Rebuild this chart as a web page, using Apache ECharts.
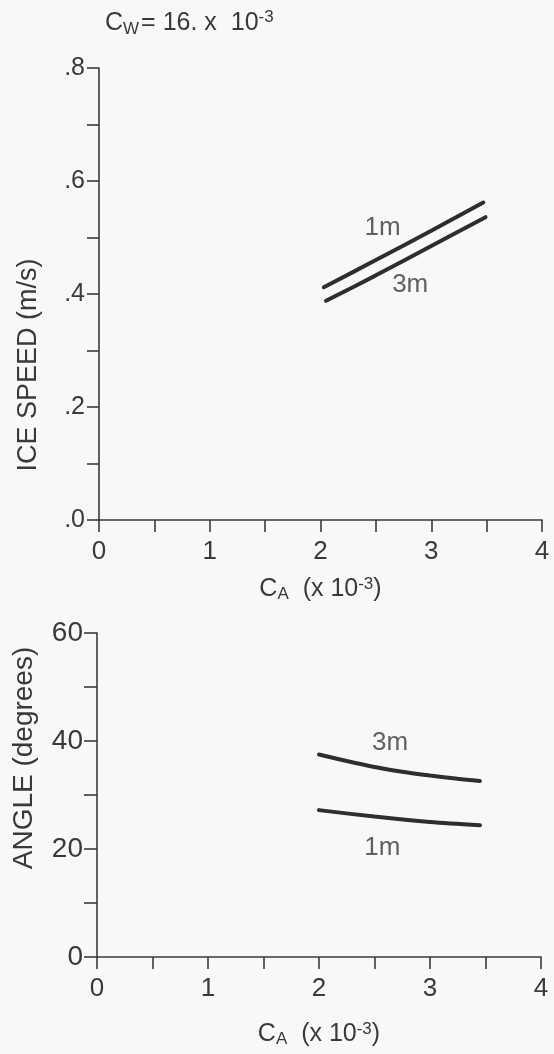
<!DOCTYPE html>
<html>
<head>
<meta charset="utf-8">
<script src="https://cdn.jsdelivr.net/npm/echarts@6/dist/echarts.min.js"></script>
<style>
html,body{margin:0;padding:0;background:#f8f9f7;}
#c{width:554px;height:1054px;}
</style>
</head>
<body>
<div id="c"></div>
<script>
// ---- data ----
const speedCA_1m = [2.03, 2.5, 3.0, 3.47];
const speed_1m   = [0.412, 0.460, 0.512, 0.562];
const speedCA_3m = [2.05, 2.5, 3.0, 3.49];
const speed_3m   = [0.388, 0.433, 0.485, 0.536];

const angleCA_3m = [2.0, 2.25, 2.5, 2.75, 3.0, 3.25, 3.45];
const angle_3m   = [37.5, 36.3, 35.2, 34.3, 33.6, 33.0, 32.6];
const angleCA_1m = [2.0, 2.5, 3.0, 3.45];
const angle_1m   = [27.2, 26.0, 25.0, 24.4];

// curve labels in data coordinates
const speedLabels = [[2.56, 0.517, '1m'], [2.81, 0.416, '3m']];
const angleLabels = [[2.64, 39.6, '3m'], [2.57, 20.2, '1m']];

const xTicks = [0, 1, 2, 3, 4];

const zip = (xs, ys) => xs.map((x, i) => [x, ys[i]]);
const FONT = 'Liberation Sans';
const INK = '#3a3a3a';

const chart = echarts.init(document.getElementById('c'));

function xAxis(gridIndex, nameGap) {
  return {
    type: 'value', gridIndex, min: 0, max: 4, interval: 0.5,
    splitLine: {show: false},
    axisLine: {onZero: false, lineStyle: {color: INK, width: 1.6}},
    axisTick: {inside: false, length: 12, lineStyle: {color: INK, width: 1.6}},
    axisLabel: {
      color: INK, fontFamily: FONT, fontSize: 26, margin: 19,
      formatter: v => (Number.isInteger(v) && xTicks.includes(v)) ? String(v) : ''
    },
    name: '{a|C}{s|A}{a|  (x 10}{p|-3}{a|)}',
    nameLocation: 'middle', nameGap,
    nameTextStyle: {
      rich: {
        a: {fontFamily: FONT, fontSize: 25, color: INK},
        s: {fontFamily: FONT, fontSize: 17, color: INK, verticalAlign: 'bottom', padding: [10, 0, 0, 0]},
        p: {fontFamily: FONT, fontSize: 17, color: INK, verticalAlign: 'top', padding: [0, 0, 10, 0]}
      }
    }
  };
}

function lineSeries(xi, data) {
  return {
    type: 'line', xAxisIndex: xi, yAxisIndex: xi, data,
    smooth: 0.3, symbol: 'none',
    lineStyle: {color: '#2e2e2e', width: 4, cap: 'round'}
  };
}

function labelSeries(xi, labels) {
  return {
    type: 'scatter', xAxisIndex: xi, yAxisIndex: xi,
    symbolSize: 0, silent: true,
    data: labels.map(l => ({value: [l[0], l[1]], name: l[2]})),
    label: {
      show: true, position: 'inside', formatter: p => p.name,
      color: INK, fontFamily: FONT, fontSize: 26
    }
  };
}

chart.setOption({
  backgroundColor: '#f8f9f7',
  animation: false,
  title: {
    text: '{a|C}{s|W}{a|= 16. x  10}{p|-3}',
    left: 100, top: 4,
    textStyle: {
      fontWeight: 'normal',
      rich: {
        a: {fontFamily: FONT, fontSize: 25, color: INK, fontWeight: 'normal'},
        s: {fontFamily: FONT, fontSize: 17, color: INK, fontWeight: 'normal', verticalAlign: 'bottom', padding: [12, 2, 0, 0]},
        p: {fontFamily: FONT, fontSize: 17, color: INK, fontWeight: 'normal', verticalAlign: 'top', padding: [0, 0, 12, 0]}
      }
    }
  },
  grid: [
    {left: 99, right: 12, top: 68, height: 452},
    {left: 97, right: 13, top: 633, height: 324}
  ],
  xAxis: [xAxis(0, 56), xAxis(1, 64)],
  yAxis: [
    {
      type: 'value', gridIndex: 0, min: 0, max: 0.8, interval: 0.1,
      splitLine: {show: false},
      axisLine: {show: true, onZero: false, lineStyle: {color: INK, width: 1.6}},
      axisTick: {show: true, length: 12, lineStyle: {color: INK, width: 1.6}},
      axisLabel: {
        color: INK, fontFamily: FONT, fontSize: 25, margin: 14,
        formatter: v => (Math.round(v * 10) % 2 === 0) ? '.' + Math.round(v * 10) : ''
      }
    },
    {
      type: 'value', gridIndex: 1, min: 0, max: 60, interval: 10,
      splitLine: {show: false},
      axisLine: {show: true, onZero: false, lineStyle: {color: INK, width: 1.6}},
      axisTick: {show: true, length: 13, lineStyle: {color: INK, width: 1.6}},
      axisLabel: {
        color: INK, fontFamily: FONT, fontSize: 28, margin: 14,
        formatter: v => (v % 20 === 0) ? String(v) : ''
      }
    }
  ],
  graphic: [
    {type: 'text', x: 29, y: 365, rotation: Math.PI / 2, silent: true,
     style: {text: 'ICE SPEED (m/s)', font: '27px "Liberation Sans"', fill: INK, align: 'center', verticalAlign: 'middle'}},
    {type: 'text', x: 24, y: 758, rotation: Math.PI / 2, silent: true,
     style: {text: 'ANGLE (degrees)', font: '28px "Liberation Sans"', fill: INK, align: 'center', verticalAlign: 'middle'}}
  ],
  series: [
    lineSeries(0, zip(speedCA_1m, speed_1m)),
    lineSeries(0, zip(speedCA_3m, speed_3m)),
    labelSeries(0, speedLabels),
    lineSeries(1, zip(angleCA_3m, angle_3m)),
    lineSeries(1, zip(angleCA_1m, angle_1m)),
    labelSeries(1, angleLabels)
  ]
});
</script>
</body>
</html>
